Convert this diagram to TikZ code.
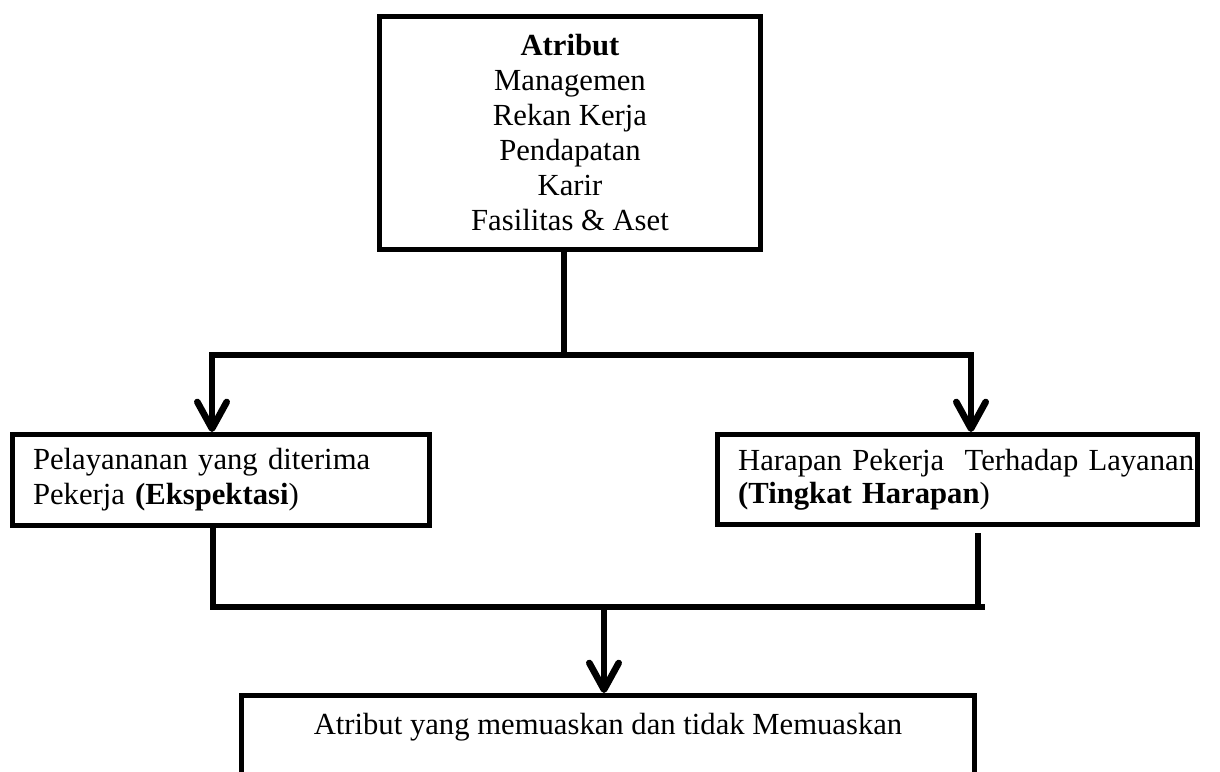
\documentclass[tikz,border=0pt]{standalone}
\usepackage{fontspec}
\setmainfont{Liberation Serif}
\usetikzlibrary{arrows.meta}
\begin{document}
\begin{tikzpicture}[x=0.75pt,y=-0.75pt,
  box/.style={draw=black,line width=3.75pt,inner sep=0pt,font=\fontsize{23}{26.25}\selectfont},
  conn/.style={line width=5pt,line join=miter},
  tipB/.tip={Straight Barb[length=20pt,width=22pt,round]},
  barbboth/.style={tipB-tipB},
  barbend/.style={-tipB}
]
\clip (0,0) rectangle (1220,771);
\fill[white] (0,0) rectangle (1220,771);

\node[box,minimum width=285.75pt,minimum height=174.75pt,align=center] (top) at (570,133)
  {\textbf{Atribut}\\Managemen\\Rekan Kerja\\Pendapatan\\Karir\\Fasilitas \& Aset};

\node[box,minimum width=312.75pt,minimum height=68.25pt,text width=282pt,align=left] (left) at (221,480)
  {\mbox{Pelayananan yang diterima}\\\mbox{Pekerja \textbf{(Ekspektasi})}};

\node[box,minimum width=360pt,minimum height=67.5pt,text width=329pt,align=left,
  font=\fontsize{23}{24.75}\selectfont] (right) at (957.5,479.5)
  {\mbox{Harapan Pekerja\ \ Terhadap Layanan}\\\mbox{\textbf{(Tingkat Harapan})}};

\node[box,anchor=north,minimum width=549.75pt,text height=15pt,text depth=60pt,inner ysep=14.6pt] (bot) at (608,693)
  {Atribut yang memuaskan dan tidak Memuaskan};

\coordinate (j1) at (564,355);
\coordinate (lc) at (212,355);
\coordinate (rc) at (971,355);
\coordinate (bl) at (213,607);
\coordinate (br) at (985,607);
\coordinate (rv) at (978,607);
\coordinate (j2) at (604,607);

\draw[conn] (top.south -| j1) -- (j1);
\draw[conn,barbboth] (lc |- left.north) -- (lc) -- (rc) -- (rc |- right.north);
\draw[conn] (left.south -| bl) -- (bl) -- (br);
\draw[conn] (right.south -| rv) ++(0,6) -- (rv);
\draw[conn,barbend] (j2) -- (bot.north -| j2);
\end{tikzpicture}
\end{document}
